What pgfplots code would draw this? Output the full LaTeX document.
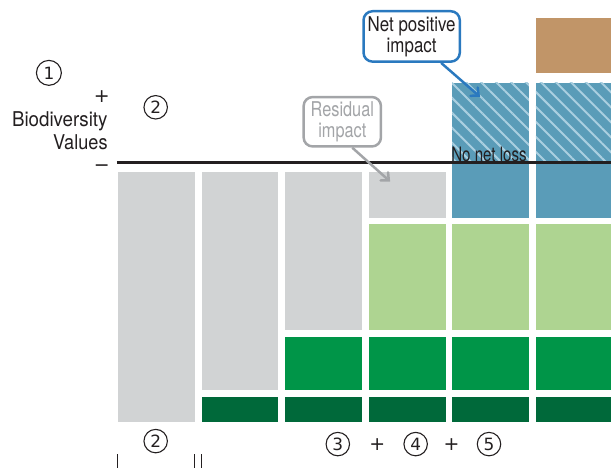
\documentclass[border=0pt]{standalone}
\usepackage{fontspec}
\setmainfont[FakeStretch=0.85]{TeX Gyre Heros}
\newfontfamily\symf{DejaVu Sans}
\usepackage{pgfplots}
\pgfplotsset{compat=1.18}
\usetikzlibrary{patterns.meta,arrows.meta}

\definecolor{resgray}{HTML}{D1D3D4}
\definecolor{ltgreen}{HTML}{AED491}
\definecolor{midgreen}{HTML}{009548}
\definecolor{dkgreen}{HTML}{00693A}
\definecolor{npblue}{HTML}{5A9CB8}
\definecolor{hatch}{HTML}{AACFE0}
\definecolor{brown}{HTML}{C19568}
\definecolor{calloutblue}{HTML}{2A79BF}
\definecolor{calloutgray}{HTML}{A3A5A8}
\definecolor{ink}{HTML}{231F20}

\tikzset{
  num/.style={circle, draw=ink, line width=1.1bp, minimum size=23.5bp, inner sep=0,
    text=ink, font=\symf\fontsize{17}{17}\selectfont},
  lbl/.style={inner sep=0, text=ink, font=\fontsize{20.5}{22}\selectfont},
  sgn/.style={inner sep=0, text=ink, font=\symf\fontsize{19}{19}\selectfont},
}

\begin{document}
\begin{tikzpicture}
\begin{axis}[
    width=612bp, height=469bp, scale only axis,
    xmin=0, xmax=612, ymin=0, ymax=469,
    y dir=reverse,
    hide axis, clip=false,
  ]
  \path (axis cs:0,0) rectangle (axis cs:612,469);

  % column 1
  \addplot[fill=resgray, draw=none] coordinates {(118,172)(195,172)(195,423)(118,423)} -- cycle;
  % column 2
  \addplot[fill=resgray, draw=none] coordinates {(202,172)(279,172)(279,391)(202,391)} -- cycle;
  \addplot[fill=dkgreen, draw=none] coordinates {(202,398)(279,398)(279,423)(202,423)} -- cycle;
  % column 3
  \addplot[fill=resgray, draw=none] coordinates {(286,172)(363,172)(363,331)(286,331)} -- cycle;
  \addplot[fill=midgreen, draw=none] coordinates {(286,338)(363,338)(363,391)(286,391)} -- cycle;
  \addplot[fill=dkgreen, draw=none] coordinates {(286,398)(363,398)(363,423)(286,423)} -- cycle;
  % column 4
  \addplot[fill=resgray, draw=none] coordinates {(370,172)(447,172)(447,218)(370,218)} -- cycle;
  \addplot[fill=ltgreen, draw=none] coordinates {(370,224)(447,224)(447,331)(370,331)} -- cycle;
  \addplot[fill=midgreen, draw=none] coordinates {(370,338)(447,338)(447,391)(370,391)} -- cycle;
  \addplot[fill=dkgreen, draw=none] coordinates {(370,398)(447,398)(447,423)(370,423)} -- cycle;
  % column 5
  \addplot[fill=npblue, draw=none] coordinates {(453,83)(530,83)(530,218)(453,218)} -- cycle;
  \addplot[pattern={Lines[angle=-45,distance=10.6bp,line width=2bp]}, pattern color=hatch, draw=none]
    coordinates {(453,83)(530,83)(530,163)(453,163)} -- cycle;
  \addplot[fill=ltgreen, draw=none] coordinates {(453,224)(530,224)(530,331)(453,331)} -- cycle;
  \addplot[fill=midgreen, draw=none] coordinates {(453,338)(530,338)(530,391)(453,391)} -- cycle;
  \addplot[fill=dkgreen, draw=none] coordinates {(453,398)(530,398)(530,423)(453,423)} -- cycle;
  % column 6
  \addplot[fill=brown, draw=none] coordinates {(537,18)(612,18)(612,73)(537,73)} -- cycle;
  \addplot[fill=npblue, draw=none] coordinates {(537,83)(612,83)(612,218)(537,218)} -- cycle;
  \addplot[pattern={Lines[angle=-45,distance=10.6bp,line width=2bp]}, pattern color=hatch, draw=none]
    coordinates {(537,83)(612,83)(612,163)(537,163)} -- cycle;
  \addplot[fill=ltgreen, draw=none] coordinates {(537,224)(612,224)(612,331)(537,331)} -- cycle;
  \addplot[fill=midgreen, draw=none] coordinates {(537,338)(612,338)(612,391)(537,391)} -- cycle;
  \addplot[fill=dkgreen, draw=none] coordinates {(537,398)(612,398)(612,423)(537,423)} -- cycle;

  % no net loss line
  \addplot[ink, line width=2.5bp] coordinates {(117,163)(612,163)};
  \node[lbl, anchor=base west, font=\fontsize{20}{22}\selectfont\addfontfeature{FakeStretch=0.76}]
    at (axis cs:452,162) {No net loss};

  % left labels
  \node[num, minimum size=25bp] at (axis cs:49,73) {1};
  \node[sgn] at (axis cs:102,97) {+};
  \node[lbl, anchor=base east, font=\fontsize{20.5}{22}\selectfont\addfontfeature{FakeStretch=0.92}]
    at (axis cs:108,127) {Biodiversity};
  \node[lbl, anchor=base east, font=\fontsize{20.5}{22}\selectfont\addfontfeature{FakeStretch=0.89}]
    at (axis cs:108,150) {Values};
  \node[sgn] at (axis cs:102,168) {−};
  \node[num] at (axis cs:156,107.5) {2};

  % bottom labels
  \node[num] at (axis cs:156,442) {2};
  \node[num] at (axis cs:338.5,445) {3};
  \node[sgn] at (axis cs:378,445) {+};
  \node[num] at (axis cs:416.5,445) {4};
  \node[sgn] at (axis cs:452.5,445) {+};
  \node[num] at (axis cs:490,445) {5};
  \draw[ink, line width=1.3bp] (axis cs:118,455) -- (axis cs:118,469);
  \draw[ink, line width=1.3bp] (axis cs:195,455) -- (axis cs:195,469);
  \draw[ink, line width=1.3bp] (axis cs:202,455) -- (axis cs:202,469);

  % callouts
  \draw[calloutgray, line width=2.5bp, -{Straight Barb[length=6bp,width=11bp,line cap=round]}]
    (axis cs:353,148) -- (axis cs:391,182);
  \node[draw=calloutgray, fill=white, line width=2.5bp, rounded corners=9bp,
        minimum width=77.5bp, minimum height=49.5bp, inner sep=0, align=center,
        text=calloutgray, font=\fontsize{20.5}{21}\selectfont\addfontfeature{FakeStretch=0.8}]
    at (axis cs:343,122) {Residual\\impact};
  \draw[calloutblue, line width=2.5bp, -{Straight Barb[length=6bp,width=11bp,line cap=round]}]
    (axis cs:442,63) -- (axis cs:481,97);
  \node[draw=calloutblue, fill=white, line width=2.5bp, rounded corners=9bp,
        minimum width=96.5bp, minimum height=50.5bp, inner sep=0, align=center,
        text=ink, font=\fontsize{20.5}{21}\selectfont\addfontfeature{FakeStretch=0.83}]
    at (axis cs:412.5,36.5) {Net positive\\impact};
\end{axis}
\end{tikzpicture}
\end{document}
